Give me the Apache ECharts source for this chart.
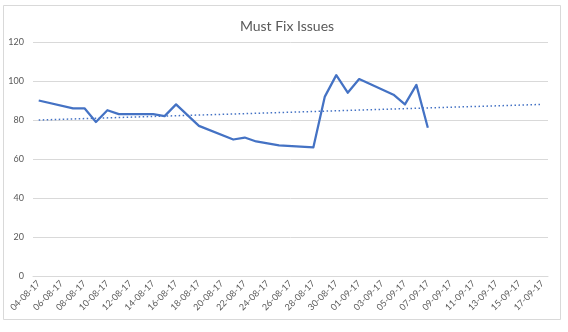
<!DOCTYPE html>
<html>
<head>
<meta charset="utf-8">
<script src="https://cdn.jsdelivr.net/npm/echarts@6/dist/echarts.min.js"></script>
<style>
html,body{margin:0;padding:0;background:#fff;}
#chart{width:568px;height:332px;}
</style>
</head>
<body>
<div id="chart"></div>
<script>
const titleText = "Must Fix Issues";
const categories = [
  "04-08-17","05-08-17","06-08-17","07-08-17","08-08-17","09-08-17","10-08-17","11-08-17",
  "12-08-17","13-08-17","14-08-17","15-08-17","16-08-17","17-08-17","18-08-17","19-08-17",
  "20-08-17","21-08-17","22-08-17","23-08-17","24-08-17","25-08-17","26-08-17","27-08-17",
  "28-08-17","29-08-17","30-08-17","31-08-17","01-09-17","02-09-17","03-09-17","04-09-17",
  "05-09-17","06-09-17","07-09-17","08-09-17","09-09-17","10-09-17","11-09-17","12-09-17",
  "13-09-17","14-09-17","15-09-17","16-09-17","17-09-17"
];
const issues = [
  90, null, null, 86, 86, 79, 85, 83,
  83, 83, 83, 82, 88, null, 77, null,
  null, 70, 71, 69, 68, 67, null, null,
  66, 92, 103, 94, 101, null, null, 93,
  88, 98, 76, null, null, null, null, null,
  null, null, null, null, null
];
// Linear trendline end points
const trendStart = 80;
const trendEnd = 88;
const yTicks = [0, 20, 40, 60, 80, 100, 120];

const trend = categories.map((c, i) => i === 0 ? trendStart : (i === categories.length - 1 ? trendEnd : null));

const chart = echarts.init(document.getElementById('chart'), null, {renderer: 'canvas'});
const fontFam = 'Lato, "Open Sans", "Liberation Sans", sans-serif';
chart.setOption({
  animation: false,
  backgroundColor: '#ffffff',
  title: {
    text: titleText,
    left: 282, top: 14, textAlign: 'center',
    textStyle: {fontFamily: fontFam, fontSize: 14, fontWeight: 'normal', color: '#595959'}
  },
  graphic: [{
    type: 'rect', silent: true, z: -1,
    shape: {x: 3.5, y: 5.5, width: 557, height: 314},
    style: {fill: 'none', stroke: '#D9D9D9', lineWidth: 1}
  }],
  grid: {left: 33, right: 20, top: 42, bottom: 56, containLabel: false},
  xAxis: {
    type: 'category',
    data: categories,
    boundaryGap: true,
    axisLine: {show: true, lineStyle: {color: '#D9D9D9', width: 1}},
    axisTick: {show: false},
    axisLabel: {interval: 1, rotate: 45, fontFamily: fontFam, fontSize: 9, color: '#595959', margin: 6}
  },
  yAxis: {
    type: 'value',
    min: yTicks[0], max: yTicks[yTicks.length - 1], interval: 20,
    axisLine: {show: false},
    axisTick: {show: false},
    axisLabel: {fontFamily: fontFam, fontSize: 9, color: '#595959', margin: 9},
    splitLine: {lineStyle: {color: '#D9D9D9', width: 1}}
  },
  series: [
    {
      name: 'Must Fix', type: 'line', data: issues, connectNulls: true,
      showSymbol: false, symbol: 'none',
      lineStyle: {color: '#4472C4', width: 2.25, join: 'round'}
    },
    {
      name: 'Trend', type: 'line', data: trend, connectNulls: true,
      showSymbol: false, symbol: 'none',
      lineStyle: {color: '#4472C4', width: 1.5, type: [1.5, 2.5]}
    }
  ]
});
</script>
</body>
</html>
